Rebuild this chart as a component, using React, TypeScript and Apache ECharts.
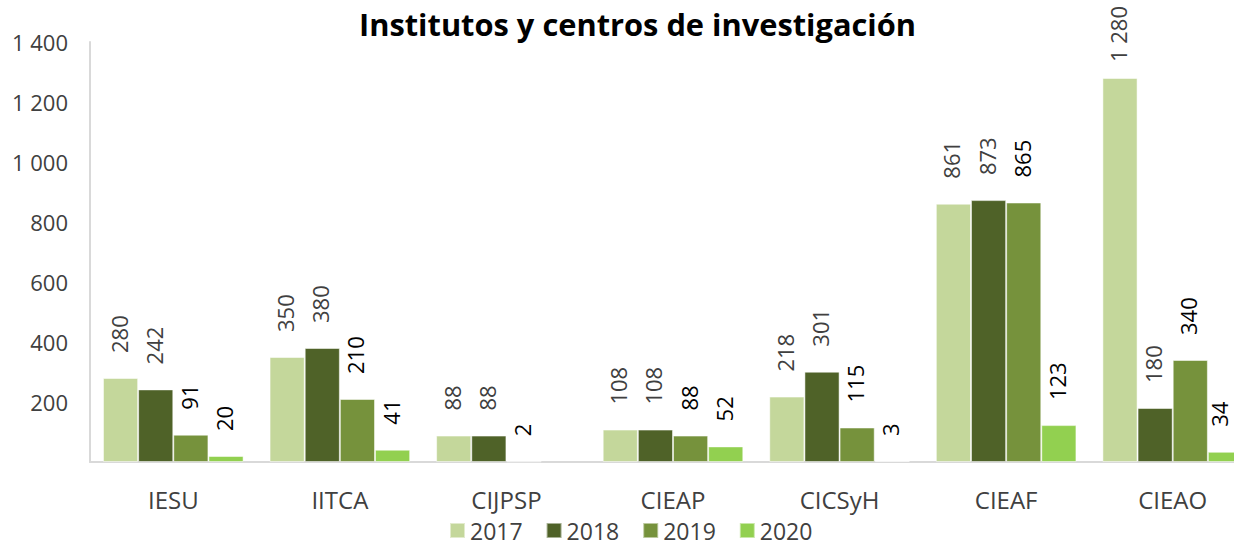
import React, { useEffect, useRef } from "react";
import * as echarts from "echarts";

const categories = ["IESU", "IITCA", "CIJPSP", "CIEAP", "CICSyH", "CIEAF", "CIEAO"];
const years = ["2017", "2018", "2019", "2020"];
const values2017 = [280, 350, 88, 108, 218, 861, 1280];
const values2018 = [242, 380, 88, 108, 301, 873, 180];
const values2019 = [91, 210, 2, 88, 115, 865, 340];
const values2020: (number | null)[] = [20, 41, null, 52, 3, 123, 34];
const colors = ["#C4D79B", "#4F6228", "#76923C", "#92D050"];
const labelColors = ["#404040", "#404040", "#000000", "#000000"];

const fmt = (v: number) => String(v).replace(/\B(?=(\d{3})+(?!\d))/g, " ");

export default function App() {
  const ref = useRef<HTMLDivElement>(null);
  useEffect(() => {
    if (!ref.current) return;
    const chart = echarts.init(ref.current, null, { renderer: "svg" });
    const font = "'Open Sans', sans-serif";
    const all = [values2017, values2018, values2019, values2020];
    const last = categories.length - 1;
    chart.setOption({
      animation: false,
      title: {
        text: "Institutos y centros de investigación",
        left: 354,
        top: 3,
        textStyle: { fontFamily: font, fontSize: 30.8, fontWeight: "bold", color: "#000" },
      },
      legend: {
        data: years,
        bottom: -1,
        left: 444,
        itemWidth: 15,
        itemHeight: 15,
        itemGap: 23,
        icon: "rect",
        textStyle: { fontFamily: font, fontSize: 23, color: "#404040" },
      },
      grid: { left: 90, right: -22, top: 42, bottom: 84, containLabel: false, outerBoundsMode: "none" },
      xAxis: {
        type: "category",
        data: categories,
        axisLine: { lineStyle: { color: "#d9d9d9", width: 2 } },
        axisTick: { show: false },
        axisLabel: { fontFamily: font, fontSize: 24, color: "#404040", margin: 25 },
      },
      yAxis: {
        type: "value",
        min: 0,
        max: 1400,
        interval: 200,
        axisLine: { show: true, lineStyle: { color: "#d9d9d9", width: 2 } },
        axisTick: { show: false },
        splitLine: { show: false },
        axisLabel: {
          fontFamily: font,
          fontSize: 22,
          color: "#404040",
          margin: 22,
          formatter: (v: number) => (v === 0 ? "" : fmt(v)),
        },
      },
      series: years.map((y, i) => ({
        name: y,
        type: "bar",
        data: all[i].map((v, j) => {
          if (i === 3 && j === last) return { value: v, label: { offset: [0, -6] } };
          if (i === 0 && j === last) return { value: v, label: { offset: [-9, -2] } };
          return v;
        }),
        barGap: "0%",
        barCategoryGap: "15.6%",
        itemStyle: { color: colors[i], borderColor: "rgba(255,255,255,0.5)", borderWidth: 1 },
        label: {
          show: true,
          position: "top",
          rotate: 90,
          align: "left",
          verticalAlign: "middle",
          distance: 25,
          offset: [0, -2],
          fontFamily: font,
          fontSize: 22,
          color: labelColors[i],
          formatter: (p: any) => (p.value == null ? "" : fmt(p.value)),
        },
      })),
    });
    return () => chart.dispose();
  }, []);
  return (
    <div
      ref={ref}
      style={{ position: "fixed", left: 0, top: 0, width: 1234, height: 546, background: "#fff" }}
    />
  );
}
